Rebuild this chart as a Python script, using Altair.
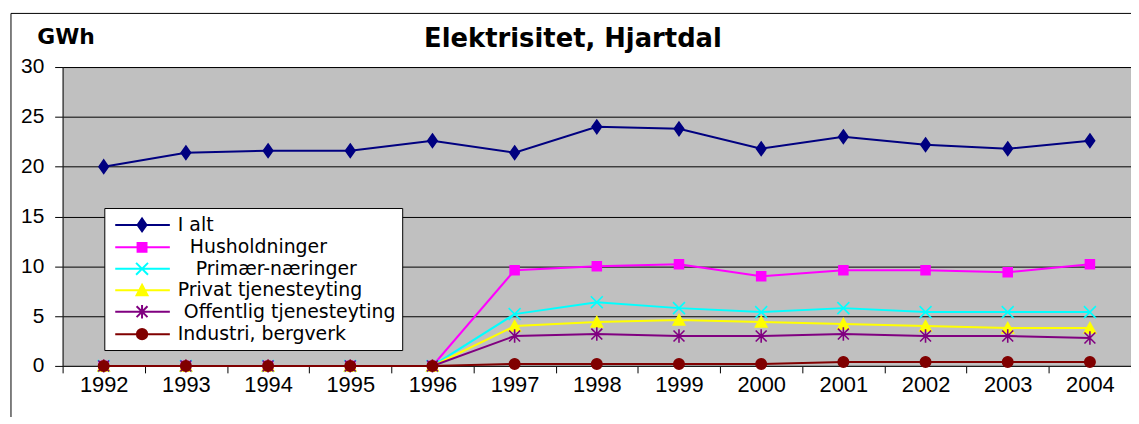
import altair as alt
import pandas as pd

years = [1992, 1993, 1994, 1995, 1996, 1997, 1998, 1999, 2000, 2001, 2002, 2003, 2004]
# legend labels exactly as in the reference (with their leading spaces);
# a zero-width space keeps the leading spaces from being trimmed
series = ["I alt", "\u200b\u00a0\u00a0Husholdninger", "\u200b\u00a0\u00a0\u00a0Primær-næringer",
          "Privat tjenesteyting", "\u200b\u00a0Offentlig tjenesteyting", "Industri, bergverk"]
colors = ["#000080", "#FF00FF", "#00FFFF", "#FFFF00", "#800080", "#800000"]

i_alt = [20.0, 21.4, 21.6, 21.6, 22.6, 21.4, 24.0, 23.8, 21.8, 23.0, 22.2, 21.8, 22.6]
husholdninger = [0, 0, 0, 0, 0, 9.6, 10.0, 10.2, 9.0, 9.6, 9.6, 9.4, 10.2]
primaer = [0, 0, 0, 0, 0, 5.2, 6.4, 5.8, 5.4, 5.8, 5.4, 5.4, 5.4]
privat = [0, 0, 0, 0, 0, 4.0, 4.4, 4.6, 4.4, 4.2, 4.0, 3.8, 3.8]
offentlig = [0, 0, 0, 0, 0, 3.0, 3.2, 3.0, 3.0, 3.2, 3.0, 3.0, 2.8]
industri = [0, 0, 0, 0, 0, 0.2, 0.2, 0.2, 0.2, 0.4, 0.4, 0.4, 0.4]
y_ticks = [0, 5, 10, 15, 20, 25, 30]

values = [i_alt, husholdninger, primaer, privat, offentlig, industri]
rows = []
for k, (name, vals) in enumerate(zip(series, values)):
    for yr, v in zip(years, vals):
        rows.append({"year": str(yr), "value": v, "series": name, "order": k})
df = pd.DataFrame(rows)

# marker shapes for the plot (unit ~ 5px at size 100)
marker_paths = [
    "M0,-1.35L0.95,0L0,1.35L-0.95,0Z",
    "M-0.9,-0.9H0.9V0.9H-0.9Z",
    "M-1.2,-1.2L1.2,1.2M-1.2,1.2L1.2,-1.2",
    "M0,-1.1L1.15,1L-1.15,1Z",
    "M-1.1,-1.1L1.1,1.1M-1.1,1.1L1.1,-1.1M0,-1.35V1.35",
    "M-1.05,0A1.05,1.05 0 1,1 1.05,0A1.05,1.05 0 1,1 -1.05,0Z",
]
# legend symbols: line with marker (unit ~ 10px at size 400)
legend_paths = [
    "M-0.6,0H4.9M2.1,-0.65L2.55,0L2.1,0.65L1.65,0Z",
    "M-0.6,0H4.9M1.65,-0.45H2.55V0.45H1.65Z",
    "M-0.6,0H4.9M1.5,-0.6L2.7,0.6M1.5,0.6L2.7,-0.6",
    "M-0.6,0H4.9M2.1,-0.55L2.65,0.5L1.55,0.5Z",
    "M-0.6,0H4.9M1.55,-0.55L2.65,0.55M1.55,0.55L2.65,-0.55M2.1,-0.68V0.68",
    "M-0.6,0H4.9M1.58,0A0.52,0.52 0 1,1 2.62,0A0.52,0.52 0 1,1 1.58,0Z",
]

FONT = "Liberation Sans"
WIDE = "DejaVu Sans"

x_enc = alt.X("year:O", scale=alt.Scale(type="band", paddingInner=0, paddingOuter=0),
              axis=alt.Axis(title=None, tickBand="extent", labelAngle=0, labelFontSize=22,
                            labelFont=FONT, labelColor="black", tickSize=7, tickColor="black",
                            domainColor="#202020", labelPadding=2, grid=False))
y_enc = alt.Y("value:Q", scale=alt.Scale(domain=[0, 30], nice=False),
              axis=alt.Axis(values=y_ticks, title="GWh", titleAngle=0, titleAlign="left",
                            titleBaseline="alphabetic", titleX=-26, titleY=-24,
                            titleFontSize=22, titleFontWeight="bold", titleFont=WIDE,
                            titleColor="black", labelFontSize=21, labelFont=FONT,
                            labelColor="black", tickSize=8, tickColor="black",
                            labelPadding=11, domainColor="#202020", grid=True,
                            gridColor="black", gridWidth=1))

base = alt.Chart(df)

lines = base.mark_line(strokeWidth=2).encode(
    x=x_enc, y=y_enc,
    color=alt.Color("series:N", scale=alt.Scale(domain=series, range=colors), legend=None),
    order=alt.Order("order:Q"),
)

points = base.mark_point(filled=False, size=100, strokeWidth=1.6, opacity=1).encode(
    x=x_enc, y=y_enc,
    fill=alt.Fill("series:N", scale=alt.Scale(domain=series, range=colors), legend=None),
    stroke=alt.Stroke("series:N", scale=alt.Scale(domain=series, range=colors), legend=None),
    shape=alt.Shape("series:N", scale=alt.Scale(domain=series, range=marker_paths), legend=None),
    order=alt.Order("order:Q"),
)

leg_params = dict(title=None, orient="none", legendX=42, legendY=142)
leg = base.transform_filter("datum.value < -1000").mark_point(filled=False, opacity=1).encode(
    x=x_enc, y=y_enc,
    fill=alt.Fill("series:N", scale=alt.Scale(domain=series, range=colors),
                  legend=alt.Legend(**leg_params)),
    stroke=alt.Stroke("series:N", scale=alt.Scale(domain=series, range=colors),
                      legend=alt.Legend(**leg_params)),
    shape=alt.Shape("series:N", scale=alt.Scale(domain=series, range=legend_paths),
                    legend=alt.Legend(**leg_params)),
)

border = alt.Chart(pd.DataFrame({"a": [0]})).mark_rect(
    fill=None, stroke="black", strokeWidth=1, clip=False
).encode(x=alt.value(-52), y=alt.value(-54), x2=alt.value(1200), y2=alt.value(600))

chart = alt.layer(border, lines, points, leg).resolve_scale(
    fill="independent", stroke="independent", shape="independent", color="independent"
).properties(
    width=1076, height=301,
    autosize=alt.AutoSizeParams(type="none"),
    padding={"left": 55, "top": 58, "right": 0, "bottom": 50},
    title=alt.TitleParams("Elektrisitet, Hjartdal", fontSize=26, fontWeight="bold", font=WIDE,
                          color="black", anchor="middle", dx=-24, dy=24, offset=-36,
                          baseline="alphabetic", frame="group"),
    background="white",
).configure_view(
    fill="#C0C0C0", stroke="#808080", strokeWidth=1
).configure_legend(
    fillColor="white", strokeColor="black", strokeWidth=1, padding=6, cornerRadius=0,
    symbolSize=400, symbolStrokeWidth=2, labelFont=WIDE, labelFontSize=19,
    labelColor="black", labelOffset=46, rowPadding=0.6, symbolOpacity=1, labelLimit=0,
)

chart.save("out.html", embed_options={"renderer": "svg", "actions": False})
